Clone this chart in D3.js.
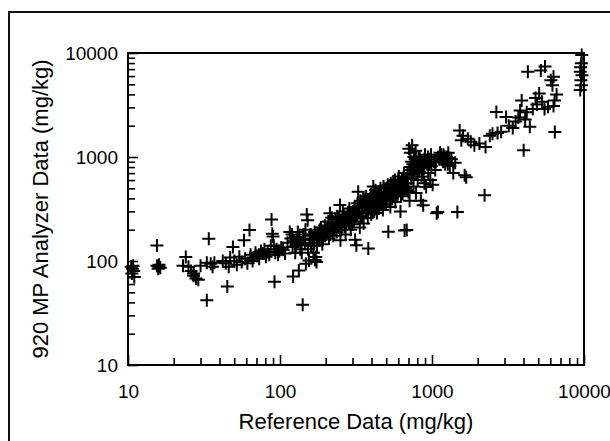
<!DOCTYPE html>
<html>
<head>
<meta charset="utf-8">
<script src="https://cdn.jsdelivr.net/npm/d3@7"></script>
<style>
  body { margin: 0; background: #fff; }
  svg { display: block; }
  text { font-family: "Liberation Sans", Arial, sans-serif; fill: #000; }
</style>
</head>
<body>
<svg id="chart" width="610" height="441"></svg>
<script>
// [reference mg/kg, analyzer mg/kg]
const lowGroup = [
  [10.5,88],[10.7,84],[10.9,80],[10.6,76],[11,70],[10.8,90],
  [15.5,141],[15.5,90],[16,88],[16.3,86],[15.8,84],[16,92],
  [24,109],[23,90],[25,88],[26,80],[27,72],[28,68],[29,66],[30,90],[27,76],
  [34,164],[33,96],[35,94],[36,88],[37,96],[33,42],
  [42,100],[44,95],[46,88],[45,57],[47,108],[49,136],[50,100],[52,92],[54,110],[56,98],
  [58,158],[59,105],[61,95],[63,199],[64,115],[66,100],[67,108],[69,120],[71,112],[73,105],
  [75,125],[77,118],[79,130],[81,110],[83,122],[85,115],[87,140],[88,250],[89,183],[90,172],
  [92,63],[91,140],[93,120],[95,130],[97,115],[99,125],[102,135],[105,128],[108,118]
]
const bandGroup = [
  [112,150],[116,190],[118,165],[121,136],[122,71],[124,155],[127,140],[130,160],[133,81],
  [134,170],[136,130],[139,120],[141,38],[143,180],[146,150],[150,280],[152,246],[148,94],
  [155,101],[157,165],[160,140],[163,175],[166,120],[168,150],[170,102],[172,109],[174,98],
  [177,185],[180,160],[183,200],[187,170],[190,145],[194,190],[198,175],
  [202,180],[206,210],[210,165],[213,288],[216,195],[220,230],[224,175],[228,210],[232,250],
  [236,190],[240,220],[244,260],[248,345],[250,158],[253,200],[257,240],[262,280],[266,215],
  [270,180],[275,250],[280,295],[284,230],[288,270],[292,200],[297,255],
  [120,180],[126,120],[131,190],[137,145],[142,160],[147,200],[153,130],[159,180],[164,160],
  [169,190],[175,140],[181,175],[186,210],[192,165],[197,220],[203,200],[208,240],[214,180],
  [219,260],[226,200],[231,230],[238,270],[245,210],[252,240],[259,300],[265,250],[272,230],
  [278,270],[286,320],[294,280],[299,225]
]
const midGroup = [
  [302,300],[307,240],[312,160],[318,142],[322,280],[327,464],[330,320],[335,210],[340,260],
  [345,340],[350,300],[355,230],[360,380],[366,290],[372,350],[378,260],[381,132],[386,320],
  [392,400],[398,280],[405,360],[411,519],[416,300],[422,420],[428,340],[434,290],[440,380],
  [447,320],[454,440],[461,360],[468,400],[475,310],[483,460],[491,380],[500,350],[508,500],
  [516,191],[524,420],[532,330],[540,480],[548,400],[556,580],[565,450],[574,370],[583,520],
  [592,420],[600,600],[610,480],[620,300],[630,550],[640,440],[650,640],[660,197],[670,500],
  [682,199],[690,700],[700,460],[705,1200],[712,380],[720,1100],[730,620],[740,1300],[748,850],
  [756,520],[765,700],[775,950],[780,1150],[785,450],[795,800],[805,600],[815,1000],[825,720],
  [835,880],[845,380],[855,650],[865,900],[875,343],[885,780],[891,560],[900,1050],[915,514],
  [930,850],[945,700],[960,950],[975,600],[990,820],
  [304,260],[310,330],[316,270],[324,360],[332,290],[338,380],[347,270],[353,400],[362,330],
  [369,420],[375,300],[383,380],[390,340],[396,440],[403,300],[409,420],[418,370],[425,480],
  [431,390],[438,330],[445,460],[452,380],[458,500],[465,420],[472,350],[480,520],[487,410],
  [495,460],[503,390],[512,540],[520,450],[528,380],[536,560],[544,460],[552,420],[560,520],
  [570,600],[578,460],[588,540],[596,480],[605,650],[615,520],[625,420],[635,600],[645,520],
  [655,700],[665,560],[675,620],[685,480],[695,560],[710,750],[725,800],[735,900],[745,680],
  [760,1000],[770,820],[790,900],[810,750],[830,1000],[850,820],[870,700],[890,950],[910,900],
  [940,1000],[970,880],[985,1050]
]
const upperGroup = [
  [1010,540],[1030,900],[1050,750],[1074,288],[1092,296],[1100,1000],[1130,1100],[1160,950],
  [1190,1050],[1220,850],[1250,1000],[1280,1100],[1310,820],[1340,950],[1380,700],[1420,880],
  [1469,296],[1520,1800],[1560,1450],[1600,1600],[1640,667],[1680,640],[1720,1500],[1800,1400],
  [1900,1300],[2050,1350],[2218,428],[2250,1250],[2400,1600],[2500,1675],[2650,2710],[2700,1700],
  [2850,1750],[3070,2425],[3200,2000],[3400,1900],[3550,2200],[3700,2400],[3800,2800],[3890,3500],
  [4010,1160],[4100,2300],[4200,2700],[4270,6600],[4400,1950],[4600,2900],[4800,3700],[4900,3200],
  [5070,4070],[5200,6800],[5300,3400],[5500,2900],[5540,7400],[5800,3050],[6050,5460],[6200,4900],
  [6430,1740],[6400,3500],[6600,4000],[6300,3100],[6300,5900],
  [1060,900],[1120,950],[1150,1050],[1180,900],[1210,1000],[1240,920],[1270,850],[1300,980]
]
const topGroup = [
  [9660,9560],[9600,7950],[9500,7300],[9450,6600],[9700,6100],[9550,5480],[9600,4900],[9450,4400]
]

const majorTicks = [10, 100, 1000, 10000]
const minorTicks = [20,30,40,50,60,70,80,90,200,300,400,500,600,700,800,900,2000,3000,4000,5000,6000,7000,8000,9000]

const xTitle = "Reference Data (mg/kg)"
const yTitle = "920 MP Analyzer Data (mg/kg)"

const points = lowGroup.concat(bandGroup, midGroup, upperGroup, topGroup)

const plotLeft = 128, plotRight = 584, plotTop = 53, plotBottom = 365

const svg = d3.select("#chart")

const x = d3.scaleLog().domain([10, 10000]).range([plotLeft, plotRight])
const y = d3.scaleLog().domain([10, 10000]).range([plotBottom, plotTop])

// outer frame (runs off the right and bottom of the picture)
svg.append("rect")
    .attr("x", 9).attr("y", 12)
    .attr("width", 700).attr("height", 500)
    .attr("fill", "none")
    .attr("stroke", "#111")
    .attr("stroke-width", 2)

// minor ticks
svg.append("g")
    .attr("transform", `translate(0,${plotBottom})`)
    .call(d3.axisBottom(x).tickValues(minorTicks).tickSizeInner(-7).tickSizeOuter(0).tickFormat(""))
svg.append("g")
    .attr("transform", `translate(${plotLeft},0)`)
    .call(d3.axisLeft(y).tickValues(minorTicks).tickSizeInner(-7).tickSizeOuter(0).tickFormat(""))

// major ticks with labels
svg.append("g")
    .attr("transform", `translate(0,${plotBottom})`)
    .call(d3.axisBottom(x).tickValues(majorTicks).tickSizeInner(-10).tickSizeOuter(0)
        .tickPadding(20).tickFormat(d3.format("d")))
svg.append("g")
    .attr("transform", `translate(${plotLeft},0)`)
    .call(d3.axisLeft(y).tickValues(majorTicks).tickSizeInner(-10).tickSizeOuter(0)
        .tickPadding(10).tickFormat(d3.format("d")))

svg.selectAll(".domain").remove()
svg.selectAll(".tick line").attr("stroke", "#000").attr("stroke-width", 1.6)
svg.selectAll(".tick text")
    .style("font-family", '"Liberation Sans", Arial, sans-serif')
    .style("font-size", "19px")
    .attr("fill", "#000")

// plot box
svg.append("rect")
    .attr("x", plotLeft).attr("y", plotTop)
    .attr("width", plotRight - plotLeft).attr("height", plotBottom - plotTop)
    .attr("fill", "none")
    .attr("stroke", "#000")
    .attr("stroke-width", 2)

// plus markers
const arm = 6.5
const marks = svg.append("g")
    .attr("stroke", "#000")
    .attr("stroke-width", 2)
    .attr("fill", "none")

marks.selectAll("path")
    .data(points)
    .enter()
    .append("path")
    .attr("d", d => {
        const cx = x(d[0]), cy = y(d[1])
        return `M${cx - arm},${cy}H${cx + arm}M${cx},${cy - arm}V${cy + arm}`
    })

// titles
svg.append("text")
    .attr("x", (plotLeft + plotRight) / 2)
    .attr("y", 429)
    .attr("text-anchor", "middle")
    .style("font-size", "22px")
    .text(xTitle)

svg.append("text")
    .attr("transform", `translate(48,${(plotTop + plotBottom) / 2}) rotate(-90)`)
    .attr("text-anchor", "middle")
    .style("font-size", "22px")
    .text(yTitle)
</script>
</body>
</html>
